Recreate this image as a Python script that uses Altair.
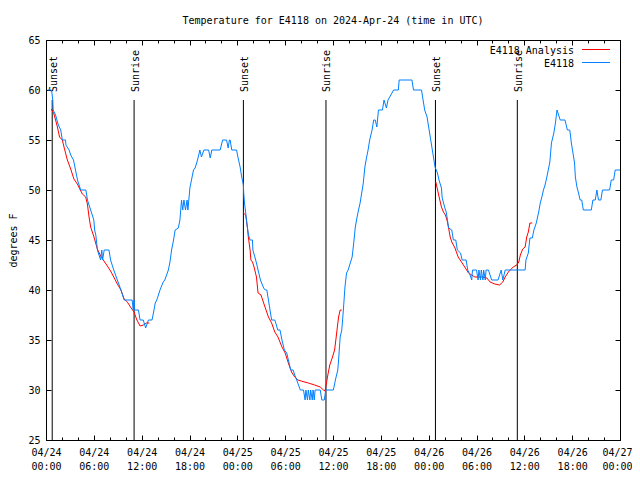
import altair as alt
import pandas as pd

FONT = "DejaVu Sans Mono"
RED = "#ff0000"
BLUE = "#0080ff"
W, H = 574, 400
START = pd.Timestamp("2024-04-24 00:00:00")

# observed E4118 temperature (hours after 2024-04-24 00:00 UTC, degrees F)
obs_day1 = [(0.2,60),(0.7,60),(0.85,59),(0.9,58),(1.2,57.5),(1.55,56.5),(1.85,56),(2.05,55),(2.45,55),
            (2.5,54.5),(2.9,54),(3.1,53.5),(3.45,53),(3.7,52),(3.95,51),(4.35,50),(5.0,50),(5.2,49),
            (5.6,48),(6.0,47),(6.1,46),(6.25,45.5),(6.45,44),(6.85,43),(7.0,44),(7.1,43),(7.3,44),
            (7.9,44),(8.1,43),(8.5,42),(8.95,41),(9.4,40),(9.8,39),(10.8,39),(10.95,38),(11.05,39),
            (11.1,38),(11.6,38),(11.8,37),(12.2,37),(12.5,36.2),(12.85,37),(13.3,37),(13.5,37.8),
            (13.7,38.7),(13.9,39),(14.3,40),(14.7,40.8),(14.9,41),(15.35,42),(15.55,42.8),(15.75,44),
            (16.0,45),(16.2,46),(16.6,46.2),(16.8,47),(17.0,49),(17.15,48),(17.3,49),(17.5,48),
            (17.7,49),(17.8,48),(18.05,50.2),(18.25,51),(18.5,52),(18.7,52.2),(18.9,52.7),(19.1,53.3),
            (19.3,54),(19.5,53.3),(19.8,54),(20.4,54),(20.6,53.2),(20.8,54),(21.85,54),(22.15,55),
            (22.65,55),(22.85,54.2),(23.0,55),(23.1,55),(23.3,54),(23.9,54),(24.1,53.2),(24.35,52.3),
            (24.55,51.3)]
obs_day2 = [(24.76,50.5),(24.8,49.7),(24.9,48.7),(25.05,47.7),(25.25,46.3),(25.4,45.5),(25.6,45),
            (25.9,45),(25.95,44),(26.2,43.3),(26.4,42.7),(26.6,42),(26.9,41),(27.3,40.2),(27.5,40),
            (27.7,40),(27.9,39),(28.1,38),(28.3,37),(28.7,37),(28.9,36.5),(29.06,36),(29.35,36),
            (29.6,35),(29.9,34),(30.2,33.7),(30.4,33),(30.7,32),(31.0,32),(31.2,31.5),(31.45,31),
            (31.9,30),(32.3,30),(32.5,29),(32.6,30),(32.8,29),(32.9,30),(33.1,29),(33.2,30),(33.4,29),
            (33.5,30),(33.65,29),(33.75,30),(34.4,30),(34.6,29),(34.9,29),(35.1,30),(36.05,30),
            (36.3,31),(36.6,32),(36.7,33),(36.9,35.3),(37.1,36),(37.3,38),(37.5,40.3),(37.7,41.7),
            (37.9,42),(38.4,43.3),(38.6,44.7),(38.8,46.3),(39.0,47.2),(39.2,48),(39.4,48.7),
            (39.6,49.7),(39.8,50.7),(40.0,52.3),(40.2,53.2),(40.4,54),(40.6,55),(40.9,56),(41.1,57),
            (41.3,57),(41.5,56.3),(41.7,58),(42.2,58),(42.4,59),(42.7,58.2),(42.9,59),(43.4,59.7),
            (43.6,60),(44.2,60),(44.3,61),(45.9,61),(46.1,60),(47.1,60),(47.3,59),(47.5,58),
            (47.8,57.3),(48.0,56.3),(48.2,55.3),(48.4,54.3),(48.6,53.3)]
obs_day3 = [(48.8,52.3),(49.1,51.7),(49.3,51),(49.6,50.2),(49.7,49.2),(50.0,48.3),(50.2,47.8),
            (50.3,47.3),(50.5,46.2),(50.9,46),(51.1,45),(51.4,45),(51.6,44),(52.0,43.7),(52.2,43),
            (52.7,43),(52.9,42),(53.2,41.5),(53.4,41),(53.5,42),(54.0,42),(54.2,41),(54.3,42),
            (54.5,41),(54.6,42),(54.8,41),(54.9,42),(55.1,41),(55.2,42),(55.5,42),(55.7,41.5),
            (55.9,41),(56.7,41),(57.1,42),(57.3,41),(57.6,42),(60.1,42),(60.2,43),(60.5,43.7),
            (60.7,45.2),(61.0,45.2),(61.2,46),(61.5,46.7),(61.8,47.8),(62.0,48.7),(62.2,49.3),
            (62.4,50),(62.6,50.5),(62.8,51.2),(63.0,52),(63.2,52.8),(63.4,54.7),(63.7,55.7),
            (63.9,56.7),(64.1,58),(64.3,57.5),(64.5,57),(65.1,57),(65.4,56),(65.7,56),(65.9,54.7),
            (66.1,53.7),(66.3,52.7),(66.4,51.3),(66.6,50.3),(66.8,49.7),(67.0,49),(67.2,49),(67.4,48),
            (68.4,48),(68.6,49),(68.9,49),(69.1,50),(69.3,49),(69.6,49),(69.8,50),(70.7,50),
            (70.9,51),(71.2,51),(71.4,52),(72.0,52)]

# E4118 analysis, one run per night
ana_night1 = [(0.67,58.1),(1.0,57.6),(1.4,56.4),(1.7,55.3),(2.05,55),(2.26,54.3),(2.68,53),(3.1,52.1),
              (3.5,51.1),(3.93,50.6),(4.56,49.6),(4.98,49.3),(5.19,48.6),(5.4,47.3),(5.6,46.3),
              (6.02,45.3),(6.44,44.1),(6.86,43.4),(7.27,42.9),(7.7,42.4),(8.1,41.9),(8.5,41.3),
              (8.95,40.6),(9.4,40),(9.8,39.1),(10.2,38.8),(10.6,38.3),(11.04,37.8),(11.4,37),
              (11.8,36.4),(12.2,36.5),(12.6,36.7),(12.97,36.7)]
ana_night2 = [(24.76,47.7),(25.05,47.5),(25.26,46.3),(25.38,45.3),(25.6,44),(25.7,43),(25.9,42.8),
              (26.1,42.3),(26.4,41.3),(26.6,39.7),(26.97,39.5),(27.3,38.7),(27.6,38),(27.9,37.3),
              (28.3,36.7),(28.7,35.8),(29.1,35.3),(29.6,34.3),(30.0,33.7),(30.4,32.7),(30.8,31.8),
              (31.2,31.3),(31.6,31),(32.0,30.9),(32.9,30.7),(33.7,30.5),(34.4,30.3),(34.8,30),
              (35.0,29.9),(35.2,30.8),(35.4,31.7),(35.6,32.5),(35.9,33.2),(36.2,34),(36.4,35.3),
              (36.5,36),(36.7,37.3),(36.9,38),(37.1,38)]
ana_night3 = [(48.9,50.8),(49.2,49.7),(49.4,49),(49.6,48.3),(49.85,47.8),(50.1,47.5),(50.3,47),
              (50.5,46.2),(50.7,45.3),(50.9,44.8),(51.3,44.2),(51.7,43.3),(52.2,42.7),(52.6,42.2),
              (53.0,41.7),(53.4,41.5),(53.8,41.3),(54.7,41.3),(55.3,41.2),(55.7,40.8),(56.3,40.6),
              (56.9,40.5),(57.3,40.8),(57.6,41.3),(58.0,41.8),(58.6,42.3),(59.06,42.5),(59.3,42.8),
              (59.5,43.5),(59.8,44.1),(60.1,44.3),(60.3,45.3),(60.5,45.8),(60.7,46.7),(61.0,46.7)]

sun_hours = [0.78, 11.05, 24.76, 35.12, 48.85, 59.12]
sun_labels = ["Sunset", "Sunrise", "Sunset", "Sunrise", "Sunset", "Sunrise"]

y_tick_values = [25, 30, 35, 40, 45, 50, 55, 60, 65]
title_text = "Temperature for E4118 on 2024-Apr-24 (time in UTC)"
legend_names = ["E4118 Analysis", "E4118"]


def stamp(h):
    return (START + pd.Timedelta(hours=h)).strftime("%Y-%m-%dT%H:%M:%SZ")


obs = obs_day1 + obs_day2 + obs_day3
obs_df = pd.DataFrame({"t": [stamp(h) for h, _ in obs], "temp": [v for _, v in obs]})
ana_rows = []
for k, night in enumerate([ana_night1, ana_night2, ana_night3]):
    for h, v in night:
        ana_rows.append({"t": stamp(h), "temp": v, "night": k})
ana_df = pd.DataFrame(ana_rows)
sun_df = pd.DataFrame({"t": [stamp(h) for h in sun_hours], "label": sun_labels})


def dt(day, hour):
    return alt.DateTime(year=2024, month=4, date=day, hours=hour, utc=True)


major_vals = [dt(24 + d, hh) for d in range(3) for hh in (0, 6, 12, 18)] + [dt(27, 0)]
minor_vals = [dt(24 + d, hh) for d in range(3) for hh in range(0, 24, 2)] + [dt(27, 0)]

xscale = alt.Scale(type="utc", domain=[dt(24, 0), dt(27, 0)], nice=False)
yscale = alt.Scale(domain=[25, 65], nice=False, zero=False)


def tick_axis(orient, offset, values, size):
    return alt.Axis(orient=orient, offset=offset, values=values, labels=False, ticks=True,
                    tickSize=size, domain=False, grid=False, title=None)


ax_x_labels = alt.Axis(
    orient="bottom", values=major_vals,
    labelExpr="[utcFormat(datum.value, '%m/%d'), utcFormat(datum.value, '%H:%M')]",
    labelOffset={"condition": {"test": "datum.value >= utc(2024, 3, 26, 20, 0)", "value": -3},
                 "value": 0},
    ticks=False, tickSize=0, domain=False, grid=False, labelPadding=7, labelLineHeight=14,
    labelFlush=False, labelOverlap=False, labelAngle=0, title=None)
ax_y_labels = alt.Axis(orient="left", values=y_tick_values, ticks=False, tickSize=0, domain=False,
                       grid=False, labelPadding=6, title="degrees F", titlePadding=9)

blue_line = alt.Chart(obs_df).mark_line(color=BLUE, strokeWidth=1).encode(
    x=alt.X("t:T", scale=xscale, axis=ax_x_labels),
    y=alt.Y("temp:Q", scale=yscale, axis=ax_y_labels),
)
red_line = alt.Chart(ana_df).mark_line(color=RED, strokeWidth=1).encode(
    x=alt.X("t:T", scale=xscale, axis=tick_axis("top", -H, major_vals, 5)),
    y=alt.Y("temp:Q", scale=yscale, axis=tick_axis("right", -W, y_tick_values, 5)),
    detail="night:N",
)
sun_rules = alt.Chart(sun_df).mark_rule(color="black", strokeWidth=1).encode(
    x=alt.X("t:T", scale=xscale, axis=tick_axis("bottom", -H, major_vals, 5)),
    y=alt.YDatum(25, type="quantitative", scale=yscale, axis=tick_axis("left", -W, y_tick_values, 5)),
    y2=alt.Y2Datum(59),
)
sunset_text = alt.Chart(sun_df).transform_filter(alt.datum.label == "Sunset").mark_text(
    angle=270, align="left", baseline="middle", dy=1.5, font=FONT, fontSize=10, color="black"
).encode(
    x=alt.X("t:T", scale=xscale, axis=tick_axis("top", -H, minor_vals, 3)),
    y=alt.YDatum(59.8, type="quantitative", scale=yscale, axis=None),
    text="label:N",
)
sunrise_text = alt.Chart(sun_df).transform_filter(alt.datum.label == "Sunrise").mark_text(
    angle=270, align="left", baseline="middle", dy=1.5, font=FONT, fontSize=10, color="black"
).encode(
    x=alt.X("t:T", scale=xscale, axis=tick_axis("bottom", -H, minor_vals, 3)),
    y=alt.YDatum(59.8, type="quantitative", scale=yscale, axis=None),
    text="label:N",
)

one = pd.DataFrame({"k": [0]})
leg_text1 = alt.Chart(one).mark_text(align="right", baseline="middle", font=FONT, fontSize=10,
                                     color="black").encode(
    x=alt.value(528), y=alt.value(10.5), text=alt.value(legend_names[0]))
leg_line1 = alt.Chart(one).mark_rule(color=RED, strokeWidth=1).encode(
    x=alt.value(536), x2=alt.value(564), y=alt.value(9.5))
leg_text2 = alt.Chart(one).mark_text(align="right", baseline="middle", font=FONT, fontSize=10,
                                     color="black").encode(
    x=alt.value(528), y=alt.value(23.5), text=alt.value(legend_names[1]))
leg_line2 = alt.Chart(one).mark_rule(color=BLUE, strokeWidth=1).encode(
    x=alt.value(536), x2=alt.value(564), y=alt.value(22.5))

chart = alt.layer(
    sun_rules, sunset_text, sunrise_text, red_line, blue_line,
    leg_text1, leg_line1, leg_text2, leg_line2,
).resolve_axis(x="independent", y="independent").properties(
    width=W, height=H,
    title=alt.TitleParams(text=title_text, font=FONT, fontSize=10, fontWeight="normal",
                          anchor="middle", offset=9, color="black"),
    autosize=alt.AutoSizeParams(type="none"),
    padding={"left": 38, "top": 32, "right": 12, "bottom": 31},
).configure_view(stroke="black", strokeWidth=1).configure_axis(
    labelFont=FONT, labelFontSize=10, labelColor="black", titleFont=FONT, titleFontSize=10,
    titleFontWeight="normal", titleColor="black", tickColor="black", tickWidth=1,
)

chart.save("out.html", embed_options={"renderer": "svg", "actions": False})
